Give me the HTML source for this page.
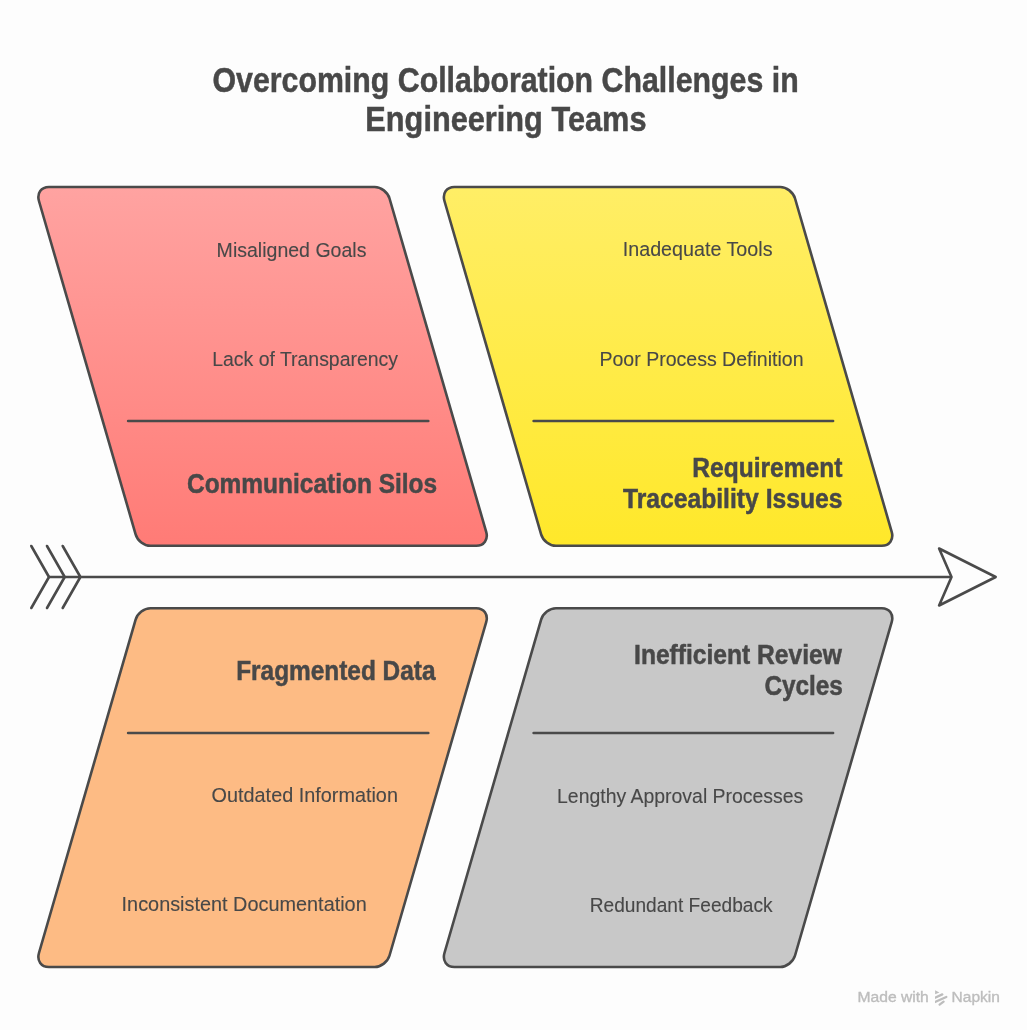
<!DOCTYPE html>
<html><head><meta charset="utf-8"><style>
html,body{margin:0;padding:0;background:#fdfdfd;}
body{width:1027px;height:1030px;overflow:hidden;}
svg{display:block;will-change:transform;font-family:"Liberation Sans",sans-serif;}
</style></head><body>
<svg width="1027" height="1030" viewBox="0 0 1027 1030">
<defs>
<linearGradient id="gp" x1="0" y1="187.0" x2="0" y2="545.8" gradientUnits="userSpaceOnUse"><stop offset="0" stop-color="#ffa3a1"/><stop offset="1" stop-color="#ff7b76"/></linearGradient>
<linearGradient id="gy" x1="0" y1="187.0" x2="0" y2="545.8" gradientUnits="userSpaceOnUse"><stop offset="0" stop-color="#ffee66"/><stop offset="1" stop-color="#ffe82a"/></linearGradient>
</defs>
<g stroke="#4a4a4a" stroke-width="2.6" stroke-linejoin="round" stroke-linecap="round">
<path d="M48.90 187.00 L374.70 187.00 C381.05 187.00 387.69 192.15 389.53 198.50 L486.19 531.80 C488.43 539.53 483.98 545.80 476.25 545.80 L150.45 545.80 C144.10 545.80 137.46 540.65 135.62 534.30 L38.96 201.00 C36.72 193.27 41.17 187.00 48.90 187.00 Z" fill="url(#gp)"/>
<path d="M454.40 187.00 L780.20 187.00 C786.55 187.00 793.19 192.15 795.04 198.50 L891.69 531.80 C893.93 539.53 889.48 545.80 881.75 545.80 L555.95 545.80 C549.60 545.80 542.96 540.65 541.12 534.30 L444.46 201.00 C442.22 193.27 446.67 187.00 454.40 187.00 Z" fill="url(#gy)"/>
<path d="M150.45 608.20 L476.25 608.20 C483.98 608.20 488.43 614.47 486.19 622.20 L389.53 955.50 C387.69 961.85 381.05 967.00 374.70 967.00 L48.90 967.00 C41.17 967.00 36.72 960.73 38.96 953.00 L135.62 619.70 C137.46 613.35 144.10 608.20 150.45 608.20 Z" fill="#fdbb84"/>
<path d="M555.95 608.20 L881.75 608.20 C889.48 608.20 893.93 614.47 891.69 622.20 L795.04 955.50 C793.19 961.85 786.55 967.00 780.20 967.00 L454.40 967.00 C446.67 967.00 442.22 960.73 444.46 953.00 L541.12 619.70 C542.96 613.35 549.60 608.20 555.95 608.20 Z" fill="#c8c8c8"/>
<path d="M128.10 421.00 L428.30 421.00" /><path d="M533.60 421.00 L833.10 421.00" /><path d="M128.10 733.00 L428.30 733.00" /><path d="M533.60 733.00 L833.10 733.00" />
<g fill="none"><path d="M31.30 546.00 L49.00 577.00 L31.30 608.00" /><path d="M47.00 546.00 L64.70 577.00 L47.00 608.00" /><path d="M62.70 546.00 L80.40 577.00 L62.70 608.00" /></g>
<path d="M49.00 577.00 L951.50 577.00" /><path d="M939.10 548.50 L995.70 577.00 L939.10 605.50 L951.50 577.00 Z" fill="#fdfdfd"/>
</g>
<g style="opacity:0.999">
<text x="212.45" y="92.10" text-anchor="start" font-size="35.50" font-weight="bold" fill="#484848" stroke="#484848" stroke-width="0.50" textLength="586.22" lengthAdjust="spacingAndGlyphs">Overcoming Collaboration Challenges in</text>
<text x="365.36" y="131.10" text-anchor="start" font-size="35.50" font-weight="bold" fill="#484848" stroke="#484848" stroke-width="0.50" textLength="281.13" lengthAdjust="spacingAndGlyphs">Engineering Teams</text>
<text x="216.62" y="256.50" text-anchor="start" font-size="20.50" font-weight="normal" fill="#484848" stroke="#484848" stroke-width="0.12" textLength="149.79" lengthAdjust="spacingAndGlyphs">Misaligned Goals</text>
<text x="212.22" y="365.60" text-anchor="start" font-size="20.50" font-weight="normal" fill="#484848" stroke="#484848" stroke-width="0.12" textLength="185.78" lengthAdjust="spacingAndGlyphs">Lack of Transparency</text>
<text x="186.97" y="492.50" text-anchor="start" font-size="27.00" font-weight="bold" fill="#484848" stroke="#484848" stroke-width="0.50" textLength="250.18" lengthAdjust="spacingAndGlyphs">Communication Silos</text>
<text x="622.77" y="256.40" text-anchor="start" font-size="20.50" font-weight="normal" fill="#484848" stroke="#484848" stroke-width="0.12" textLength="149.73" lengthAdjust="spacingAndGlyphs">Inadequate Tools</text>
<text x="599.46" y="365.60" text-anchor="start" font-size="20.50" font-weight="normal" fill="#484848" stroke="#484848" stroke-width="0.12" textLength="204.09" lengthAdjust="spacingAndGlyphs">Poor Process Definition</text>
<text x="692.25" y="476.80" text-anchor="start" font-size="27.00" font-weight="bold" fill="#484848" stroke="#484848" stroke-width="0.50" textLength="150.08" lengthAdjust="spacingAndGlyphs">Requirement</text>
<text x="622.91" y="507.80" text-anchor="start" font-size="27.00" font-weight="bold" fill="#484848" stroke="#484848" stroke-width="0.50" textLength="219.59" lengthAdjust="spacingAndGlyphs">Traceability Issues</text>
<text x="236.18" y="679.80" text-anchor="start" font-size="27.00" font-weight="bold" fill="#484848" stroke="#484848" stroke-width="0.50" textLength="199.35" lengthAdjust="spacingAndGlyphs">Fragmented Data</text>
<text x="211.58" y="802.40" text-anchor="start" font-size="20.50" font-weight="normal" fill="#484848" stroke="#484848" stroke-width="0.12" textLength="186.36" lengthAdjust="spacingAndGlyphs">Outdated Information</text>
<text x="121.60" y="911.40" text-anchor="start" font-size="20.50" font-weight="normal" fill="#484848" stroke="#484848" stroke-width="0.12" textLength="245.13" lengthAdjust="spacingAndGlyphs">Inconsistent Documentation</text>
<text x="634.07" y="664.10" text-anchor="start" font-size="27.00" font-weight="bold" fill="#484848" stroke="#484848" stroke-width="0.50" textLength="207.73" lengthAdjust="spacingAndGlyphs">Inefficient Review</text>
<text x="764.38" y="694.80" text-anchor="start" font-size="27.00" font-weight="bold" fill="#484848" stroke="#484848" stroke-width="0.50" textLength="78.54" lengthAdjust="spacingAndGlyphs">Cycles</text>
<text x="557.04" y="802.50" text-anchor="start" font-size="20.50" font-weight="normal" fill="#484848" stroke="#484848" stroke-width="0.12" textLength="246.29" lengthAdjust="spacingAndGlyphs">Lengthy Approval Processes</text>
<text x="589.76" y="911.50" text-anchor="start" font-size="20.50" font-weight="normal" fill="#484848" stroke="#484848" stroke-width="0.12" textLength="182.83" lengthAdjust="spacingAndGlyphs">Redundant Feedback</text>
<text x="857.47" y="1001.70" text-anchor="start" font-size="14.00" font-weight="normal" fill="#bdbdbd" stroke="#bdbdbd" stroke-width="0.35" textLength="71.33" lengthAdjust="spacingAndGlyphs">Made with</text>
<text x="951.58" y="1001.70" text-anchor="start" font-size="14.00" font-weight="normal" fill="#bdbdbd" stroke="#bdbdbd" stroke-width="0.35" textLength="48.31" lengthAdjust="spacingAndGlyphs">Napkin</text>
</g>
<clipPath id="lc"><rect x="935.1" y="985" width="20" height="25"/></clipPath>
<g fill="#bdbdbd">
<path d="M935.1 990.2 L939.4 992.4 L935.1 994.3 Z"/>
</g>
<g stroke="#bdbdbd" stroke-width="2.3" clip-path="url(#lc)" stroke-linecap="round">
<path d="M934 998.2 L942.3 994.4"/>
<path d="M934 1002.5 L946.3 997"/>
<path d="M939.6 1004.6 L943.6 1001.6"/>
</g>
</svg>
</body></html>
